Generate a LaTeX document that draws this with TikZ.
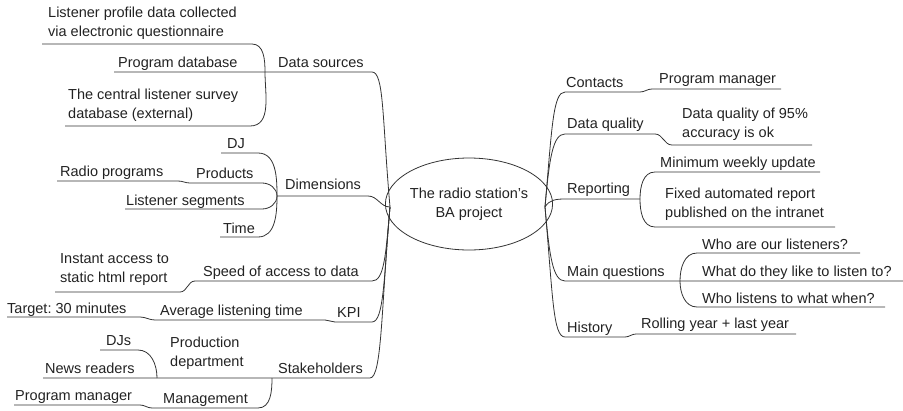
\documentclass[tikz,border=0pt]{standalone}
\usepackage{fontspec}
\setmainfont{Liberation Sans}
\usetikzlibrary{shapes.geometric}
\definecolor{inkgray}{HTML}{222222}
\definecolor{wiregray}{HTML}{333333}
\frenchspacing

\begin{document}
\begin{tikzpicture}[x=1pt,y=-1pt,font=\fontsize{14.5}{18.5}\selectfont,text=inkgray,
  label node/.style={anchor=base west,inner sep=0pt,align=left},
  hub node/.style={ellipse,draw=wiregray,line width=0.8pt,minimum width=148pt,
    minimum height=92pt,inner sep=0pt,align=center},
  branch/.style={draw=wiregray,line width=0.8pt}]
  \useasboundingbox (0,0) rectangle (903,410);

  \node[hub node] (hub) at (469,204) {The radio station’s\\BA project};
  \coordinate (hubL) at (390,207);
  \coordinate (hubR) at (545,207);

  % left half
  \node[label node] (lp) at (48,36) {Listener profile data collected\\via electronic questionnaire};
  \node[label node] (pd) at (118,67) {Program database};
  \node[label node] (ds) at (278,67) {Data sources};
  \node[label node] (cl) at (68,118) {The central listener survey\\database (external)};
  \node[label node] (dj) at (227,148) {DJ};
  \node[label node] (rpg) at (60,176) {Radio programs};
  \node[label node] (pr) at (196,178) {Products};
  \node[label node] (dim) at (285,189) {Dimensions};
  \node[label node] (ls) at (126,205) {Listener segments};
  \node[label node] (tm) at (223,233) {Time};
  \node[label node] (ia) at (60,282) {Instant access to\\static html report};
  \node[label node] (sp) at (203,276) {Speed of access to data};
  \node[label node] (tg) at (7,313) {Target: 30 minutes};
  \node[label node] (al) at (160,315) {Average listening time};
  \node[label node] (kpi) at (337,317) {KPI};
  \node[label node] (djs) at (106,345) {DJs};
  \node[label node] (pdp) at (170,366) {Production\\department};
  \node[label node] (nr) at (45,373) {News readers};
  \node[label node] (st) at (278,373) {Stakeholders};
  \node[label node] (pml) at (15,400) {Program manager};
  \node[label node] (mg) at (163,403) {Management};

  % right half
  \node[label node] (ct) at (566,87) {Contacts};
  \node[label node] (pmr) at (659,83) {Program manager};
  \node[label node] (dq) at (567,128) {Data quality};
  \node[label node] (dqs) at (682,137) {Data quality of 95\%\\accuracy is ok};
  \node[label node] (rep) at (567,193) {Reporting};
  \node[label node] (mw) at (660,167) {Minimum weekly update};
  \node[label node] (fa) at (665,217) {Fixed automated report\\published on the intranet};
  \node[label node] (mq) at (567,276) {Main questions};
  \node[label node] (wa) at (702,249) {Who are our listeners?};
  \node[label node] (wd) at (702,276) {What do they like to listen to?};
  \node[label node] (wl) at (702,303) {Who listens to what when?};
  \node[label node] (hi) at (567,332) {History};
  \node[label node] (ry) at (641,328) {Rolling year + last year};

  % underline ends and joints
  \coordinate (ds-j) at (265,72);   \coordinate (ds-e) at (372,72);
  \coordinate (lp-s) at (42,44);    \coordinate (lp-e) at (252,44);
  \coordinate (pd-s) at (114,72);
  \coordinate (cl-s) at (65,126);   \coordinate (cl-e) at (250,126);
  \coordinate (dim-j) at (277,196); \coordinate (dim-e) at (368,196);
  \coordinate (dj-s) at (221,153);  \coordinate (dj-e) at (258,153);
  \coordinate (rpg-s) at (57,181);  \coordinate (rpg-e) at (178,181);
  \coordinate (pr-s) at (190,183);  \coordinate (pr-e) at (262,183);
  \coordinate (ls-s) at (125,209);  \coordinate (ls-e) at (262,209);
  \coordinate (tm-s) at (220,237);  \coordinate (tm-e) at (258,237);
  \coordinate (sp-j) at (195,281);  \coordinate (sp-e) at (372,281);
  \coordinate (ia-s) at (55,292);   \coordinate (ia-e) at (180,292);
  \coordinate (kpi-j) at (335,322); \coordinate (kpi-e) at (372,322);
  \coordinate (tg-s) at (7,317);    \coordinate (tg-e) at (140,317);
  \coordinate (al-s) at (155,320);  \coordinate (al-e) at (325,320);
  \coordinate (st-j) at (272,378);  \coordinate (st-e) at (370,378);
  \coordinate (pdp-j) at (157,378);
  \coordinate (djs-s) at (100,350); \coordinate (djs-e) at (138,350);
  \coordinate (nr-s) at (43,378);
  \coordinate (mg-s) at (152,408);  \coordinate (mg-e) at (258,408);
  \coordinate (pml-s) at (14,405);  \coordinate (pml-e) at (140,405);

  \coordinate (ct-s) at (565,92);   \coordinate (ct-e) at (640,92);
  \coordinate (pmr-s) at (652,89);  \coordinate (pmr-e) at (781,89);
  \coordinate (dq-s) at (565,134);  \coordinate (dq-e) at (655,134);
  \coordinate (dqs-s) at (672,145); \coordinate (dqs-e) at (812,145);
  \coordinate (rep-s) at (565,199); \coordinate (rep-j) at (640,199);
  \coordinate (mw-s) at (655,172);  \coordinate (mw-e) at (820,172);
  \coordinate (fa-s) at (655,227);  \coordinate (fa-e) at (835,227);
  \coordinate (mq-s) at (565,281);  \coordinate (mq-j) at (680,281);
  \coordinate (wd-e) at (903,281);
  \coordinate (wa-s) at (697,253);  \coordinate (wa-e) at (860,253);
  \coordinate (wl-s) at (697,307);  \coordinate (wl-e) at (885,307);
  \coordinate (hi-s) at (565,337);  \coordinate (hi-e) at (625,337);
  \coordinate (ry-s) at (636,334);  \coordinate (ry-e) at (796,334);

  % left branches
  \draw[branch] (lp-s) -- (lp-e) to[out=0,in=90] (ds-j);
  \draw[branch] (pd-s) -- (ds-j) -- (ds-e)
    to[out=0,in=95,out distance=12pt,in distance=90pt] (hubL);
  \draw[branch] (cl-s) -- (cl-e) to[out=0,in=-90] (ds-j);

  \draw[branch] (dj-s) -- (dj-e) to[out=0,in=90] (dim-j);
  \draw[branch] (rpg-s) -- (rpg-e) to[out=0,in=180] (pr-s) -- (pr-e) to[out=0,in=90] (dim-j);
  \draw[branch] (ls-s) -- (ls-e) to[out=0,in=-90] (dim-j);
  \draw[branch] (tm-s) -- (tm-e) to[out=0,in=-90] (dim-j);
  \draw[branch] (dim-j) -- (dim-e) to[out=0,in=180] (hubL);

  \draw[branch] (ia-s) -- (ia-e) to[out=0,in=180] (sp-j) -- (sp-e)
    to[out=0,in=-95,out distance=12pt,in distance=50pt] (hubL);

  \draw[branch] (tg-s) -- (tg-e) to[out=0,in=180] (al-s) -- (al-e)
    to[out=0,in=180] (kpi-j) -- (kpi-e)
    to[out=0,in=-95,out distance=12pt,in distance=70pt] (hubL);

  \draw[branch] (djs-s) -- (djs-e) to[out=0,in=90] (pdp-j);
  \draw[branch] (nr-s) -- (pdp-j) -- (st-j) -- (st-e)
    to[out=0,in=-95,out distance=12pt,in distance=100pt] (hubL);
  \draw[branch] (pml-s) -- (pml-e) to[out=0,in=180] (mg-s) -- (mg-e)
    to[out=0,in=-90] (st-j);

  % right branches
  \draw[branch] (hubR) to[out=85,in=180,out distance=80pt,in distance=12pt] (ct-s)
    -- (ct-e) to[out=0,in=180] (pmr-s) -- (pmr-e);
  \draw[branch] (hubR) to[out=85,in=180,out distance=50pt,in distance=12pt] (dq-s)
    -- (dq-e) to[out=0,in=180] (dqs-s) -- (dqs-e);
  \draw[branch] (hubR) to[out=60,in=180] (rep-s) -- (rep-j);
  \draw[branch] (rep-j) to[out=90,in=180] (mw-s) -- (mw-e);
  \draw[branch] (rep-j) to[out=-90,in=180] (fa-s) -- (fa-e);
  \draw[branch] (hubR) to[out=-85,in=180,out distance=50pt,in distance=12pt] (mq-s)
    -- (mq-j) -- (wd-e);
  \draw[branch] (mq-j) to[out=90,in=180] (wa-s) -- (wa-e);
  \draw[branch] (mq-j) to[out=-90,in=180] (wl-s) -- (wl-e);
  \draw[branch] (hubR) to[out=-85,in=180,out distance=90pt,in distance=12pt] (hi-s)
    -- (hi-e) to[out=0,in=180] (ry-s) -- (ry-e);
\end{tikzpicture}
\end{document}
